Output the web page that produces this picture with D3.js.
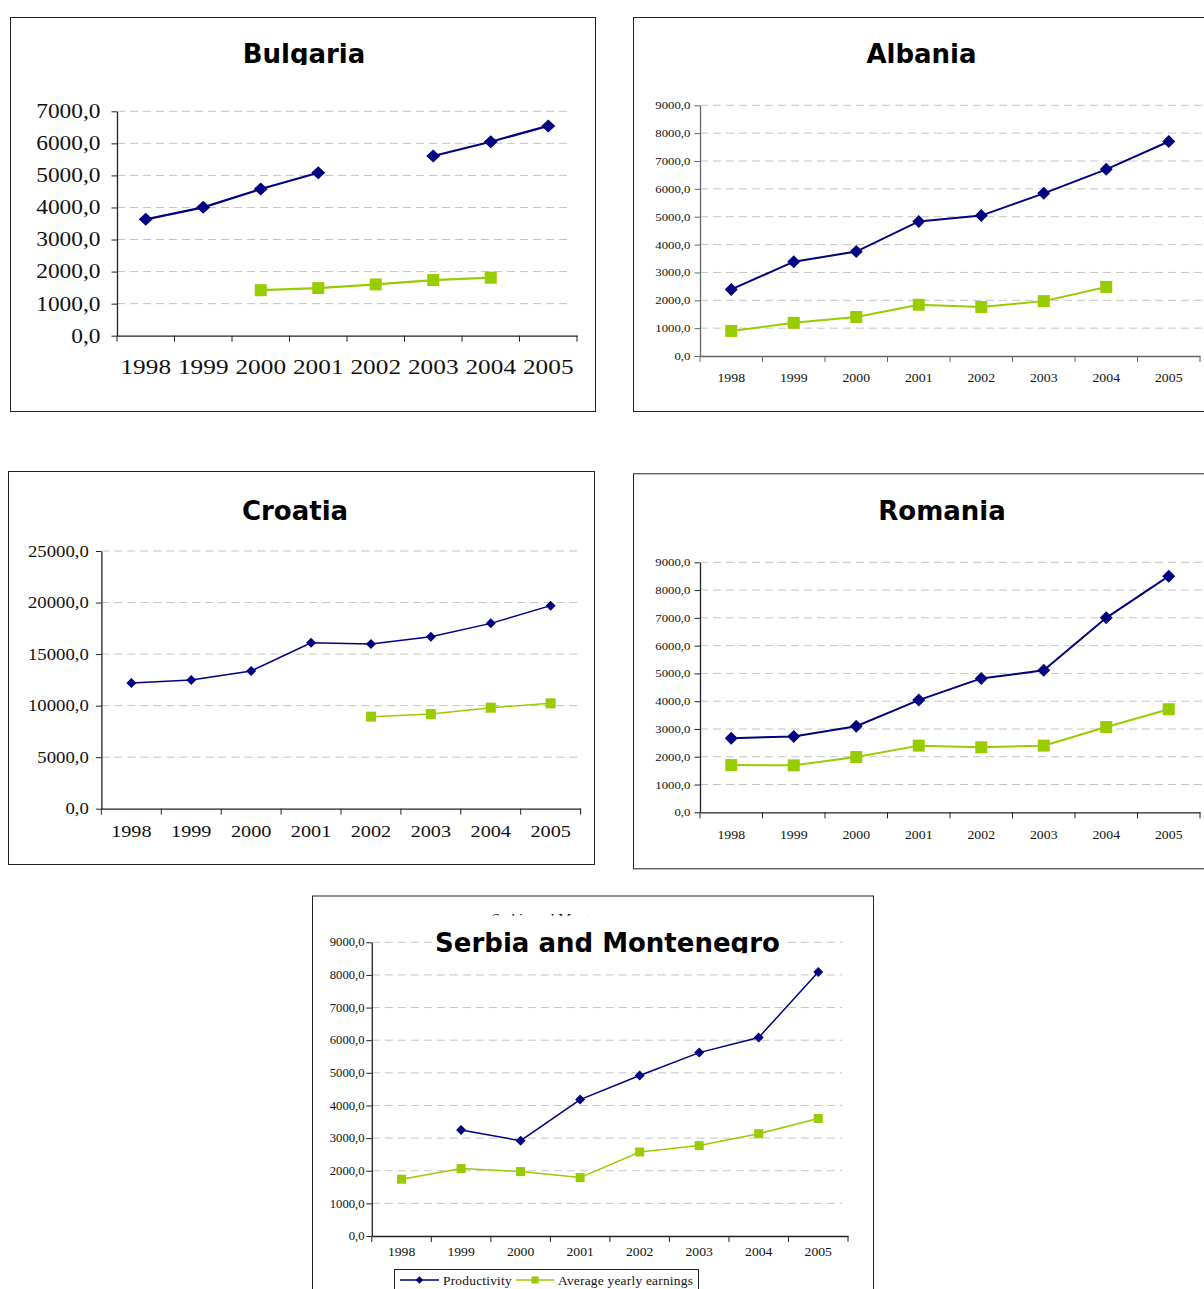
<!DOCTYPE html>
<html>
<head>
<meta charset="utf-8">
<script src="https://cdn.jsdelivr.net/npm/d3@7"></script>
<style>
body { margin: 0; background: #fff; }
</style>
</head>
<body>
<div id="chart"></div>
<script>
// data
var years = ["1998", "1999", "2000", "2001", "2002", "2003", "2004", "2005"];
var seriesNames = ["Productivity", "Average yearly earnings"];

var bulgariaProductivity = [3630, 4005, 4575, 5085, null, 5605, 6050, 6545];
var bulgariaEarnings = [null, null, 1420, 1485, 1600, 1735, 1810, null];
var bulgariaTicks = [0, 1000, 2000, 3000, 4000, 5000, 6000, 7000];

var albaniaProductivity = [2390, 3385, 3750, 4830, 5040, 5840, 6700, 7700];
var albaniaEarnings = [900, 1190, 1400, 1840, 1760, 1970, 2480, null];
var albaniaTicks = [0, 1000, 2000, 3000, 4000, 5000, 6000, 7000, 8000, 9000];

var croatiaProductivity = [12200, 12480, 13360, 16100, 15980, 16690, 17980, 19700];
var croatiaEarnings = [null, null, null, null, 8930, 9190, 9800, 10220];
var croatiaTicks = [0, 5000, 10000, 15000, 20000, 25000];

var romaniaProductivity = [2670, 2730, 3100, 4040, 4820, 5110, 7000, 8500];
var romaniaEarnings = [1700, 1690, 1990, 2400, 2340, 2400, 3070, 3710];
var romaniaTicks = [0, 1000, 2000, 3000, 4000, 5000, 6000, 7000, 8000, 9000];

var serbiaProductivity = [null, 3250, 2920, 4180, 4920, 5620, 6080, 8090];
var serbiaEarnings = [1740, 2065, 1975, 1790, 2575, 2770, 3135, 3600];
var serbiaTicks = [0, 1000, 2000, 3000, 4000, 5000, 6000, 7000, 8000, 9000];

var navy = "#000080", green = "#99cc00";

var svg = d3.select("#chart")
    .append("svg")
    .attr("width", 1204)
    .attr("height", 1289);

var fmt = function (d) { return d3.format(".1f")(d).replace(".", ","); };

var panels = [
    { name: "Bulgaria", prod: bulgariaProductivity, earn: bulgariaEarnings, ticks: bulgariaTicks,
      box: [10, 17, 585, 394], title: [304, 62.7], clipTitle: 65,
      px: [117, 577], py: [335.7, 111.3], gridEnd: 572, yearY: 374, labelGap: 16.5,
      font: 20, stretch: 1.17, lw: 2.2, dia: [7, 6.5], sq: 12, axis: "#222" },
    { name: "Albania", prod: albaniaProductivity, earn: albaniaEarnings, ticks: albaniaTicks,
      box: [633, 17, 620, 394], title: [921.5, 62.7],
      px: [700, 1200], py: [356, 105.3], gridEnd: 1210, yearY: 381.7, labelGap: 9.6,
      font: 11, stretch: 1.16, lw: 2, dia: [6.5, 6.5], sq: 12, axis: "#666" },
    { name: "Croatia", prod: croatiaProductivity, earn: croatiaEarnings, ticks: croatiaTicks,
      box: [8, 471, 586, 393], title: [295, 520],
      px: [101.4, 580.6], py: [808.7, 551], gridEnd: 580, yearY: 836.7, labelGap: 12.6,
      font: 16, stretch: 1.17, lw: 1.5, dia: [5, 5], sq: 10, axis: "#222" },
    { name: "Romania", prod: romaniaProductivity, earn: romaniaEarnings, ticks: romaniaTicks,
      box: [633, 473.3, 620, 395], title: [942, 520],
      px: [700, 1200], py: [812.3, 562.3], gridEnd: 1210, yearY: 839, labelGap: 9.6,
      font: 11, stretch: 1.16, lw: 2, dia: [6.5, 6.5], sq: 12, axis: "#222" },
    { name: "Serbia and Montenegro", prod: serbiaProductivity, earn: serbiaEarnings, ticks: serbiaTicks,
      box: [312, 895.5, 561, 410], title: [607.5, 951.7], clipTitle: 953.3,
      px: [371.8, 848], py: [1236, 942.3], gridEnd: 842, yearY: 1256, labelGap: 7.3,
      font: 11.5, stretch: 1.1, lw: 1.5, dia: [5, 5], sq: 9, axis: "#222", legend: true }
];

function diamond(w, h) {
    return "M0," + (-h) + "L" + w + ",0L0," + h + "L" + (-w) + ",0Z";
}

panels.forEach(function (p, i) {
    var g = svg.append("g");

    g.append("rect")
        .attr("x", p.box[0] + 0.5).attr("y", p.box[1] + 0.5)
        .attr("width", p.box[2]).attr("height", p.box[3])
        .attr("fill", "#fff").attr("stroke", "#222").attr("stroke-width", 1);

    var x = d3.scaleBand().domain(years).range(p.px);
    var y = d3.scaleLinear().domain([0, d3.max(p.ticks)]).range(p.py);
    var cx = function (j) { return x(years[j]) + x.bandwidth() / 2; };

    // dashed gridlines
    g.selectAll(".grid")
        .data(p.ticks.filter(function (t) { return t > 0; }))
        .enter().append("line")
        .attr("x1", p.px[0]).attr("x2", p.gridEnd)
        .attr("y1", function (t) { return y(t); })
        .attr("y2", function (t) { return y(t); })
        .attr("stroke", "#c4c4c4").attr("stroke-width", 1)
        .attr("stroke-dasharray", "8,5");

    // serbia: the old small title peeks out above the big one
    if (p.name === "Serbia and Montenegro") {
        svg.append("clipPath").attr("id", "smallclip")
            .append("rect").attr("x", 300).attr("y", 905).attr("width", 600).attr("height", 10.8);
        g.append("text")
            .attr("x", 561).attr("y", 923.5)
            .attr("text-anchor", "middle")
            .attr("clip-path", "url(#smallclip)")
            .attr("font-family", "Liberation Serif")
            .style("font-size", "14.7px")
            .text(p.name);
        g.append("rect")
            .attr("x", 434).attr("y", 915.8).attr("width", 349).attr("height", 37.5)
            .attr("fill", "#fff");
    }

    // title
    var title = g.append("text")
        .attr("x", p.title[0]).attr("y", p.title[1])
        .attr("text-anchor", "middle")
        .attr("font-family", "DejaVu Sans")
        .style("font-size", "26px")
        .style("font-weight", "bold")
        .text(p.name);
    if (p.clipTitle) {
        svg.append("clipPath").attr("id", "tclip" + i)
            .append("rect").attr("x", p.box[0]).attr("y", p.title[1] - 40)
            .attr("width", p.box[2]).attr("height", p.clipTitle - (p.title[1] - 40));
        title.attr("clip-path", "url(#tclip" + i + ")");
    }

    // y axis
    var yAxis = g.append("g")
        .attr("transform", "translate(" + p.px[0] + ",0)")
        .call(d3.axisLeft(y).tickValues(p.ticks).tickFormat(fmt).tickSizeInner(5.5).tickSizeOuter(0));
    yAxis.select(".domain").attr("stroke", p.axis).attr("stroke-width", 1.3);
    yAxis.selectAll(".tick line").attr("stroke", p.axis);
    yAxis.selectAll("text")
        .attr("x", -p.labelGap / p.stretch)
        .attr("transform", "scale(" + p.stretch + ",1)")
        .attr("font-family", "Liberation Serif")
        .style("font-size", p.font + "px")
        .attr("fill", "#111");

    // x axis, ticks sit between the categories
    var xAxis = g.append("g")
        .attr("transform", "translate(0," + p.py[0] + ")")
        .call(d3.axisBottom(x).tickSize(0));
    xAxis.select(".domain").attr("stroke", p.axis).attr("stroke-width", 1.3);
    xAxis.selectAll("text")
        .attr("y", p.yearY - p.py[0]).attr("dy", 0)
        .attr("transform", "scale(" + p.stretch + ",1)")
        .attr("font-family", "Liberation Serif")
        .style("font-size", (p.font * 1.08) + "px")
        .attr("fill", "#111");
    xAxis.selectAll(".bound")
        .data(years.concat(["end"]))
        .enter().append("line")
        .attr("x1", function (d) { return d === "end" ? p.px[1] : x(d); })
        .attr("x2", function (d) { return d === "end" ? p.px[1] : x(d); })
        .attr("y1", 0).attr("y2", 6)
        .attr("stroke", p.axis);

    var line = d3.line()
        .defined(function (d) { return d != null; })
        .x(function (d, j) { return cx(j); })
        .y(function (d) { return y(d); });

    g.append("path").datum(p.earn)
        .attr("d", line).attr("fill", "none")
        .attr("stroke", green).attr("stroke-width", p.lw);
    g.append("path").datum(p.prod)
        .attr("d", line).attr("fill", "none")
        .attr("stroke", navy).attr("stroke-width", p.lw);

    g.selectAll(".sq")
        .data(p.earn.map(function (v, j) { return { v: v, j: j }; }).filter(function (d) { return d.v != null; }))
        .enter().append("rect")
        .attr("x", function (d) { return cx(d.j) - p.sq / 2; })
        .attr("y", function (d) { return y(d.v) - p.sq / 2; })
        .attr("width", p.sq).attr("height", p.sq)
        .attr("fill", green);

    g.selectAll(".dia")
        .data(p.prod.map(function (v, j) { return { v: v, j: j }; }).filter(function (d) { return d.v != null; }))
        .enter().append("path")
        .attr("transform", function (d) { return "translate(" + cx(d.j) + "," + y(d.v) + ")"; })
        .attr("d", diamond(p.dia[0], p.dia[1]))
        .attr("fill", navy);

    if (p.legend) {
        var lg = g.append("g");
        lg.append("rect")
            .attr("x", 394.5).attr("y", 1269.5).attr("width", 304).attr("height", 30)
            .attr("fill", "#fff").attr("stroke", "#222");
        var items = [
            { name: seriesNames[0], x1: 400, x2: 439, color: navy, mark: "d", tx: 443 },
            { name: seriesNames[1], x1: 516, x2: 554, color: green, mark: "s", tx: 558 }
        ];
        items.forEach(function (it) {
            var ly = 1280;
            lg.append("line")
                .attr("x1", it.x1).attr("x2", it.x2).attr("y1", ly).attr("y2", ly)
                .attr("stroke", it.color).attr("stroke-width", 1.5);
            if (it.mark === "d") {
                lg.append("path")
                    .attr("transform", "translate(" + ((it.x1 + it.x2) / 2) + "," + ly + ")")
                    .attr("d", diamond(3.8, 3.8)).attr("fill", it.color);
            } else {
                lg.append("rect")
                    .attr("x", (it.x1 + it.x2) / 2 - 3.5).attr("y", ly - 3.5)
                    .attr("width", 7).attr("height", 7).attr("fill", it.color);
            }
            lg.append("text")
                .attr("transform", "translate(" + it.tx + "," + (ly + 4.5) + ") scale(1.1,1)")
                .attr("font-family", "Liberation Serif")
                .style("font-size", "12.2px")
                .style("letter-spacing", "0.2px")
                .attr("fill", "#111")
                .text(it.name);
        });
    }
});
</script>
</body>
</html>
